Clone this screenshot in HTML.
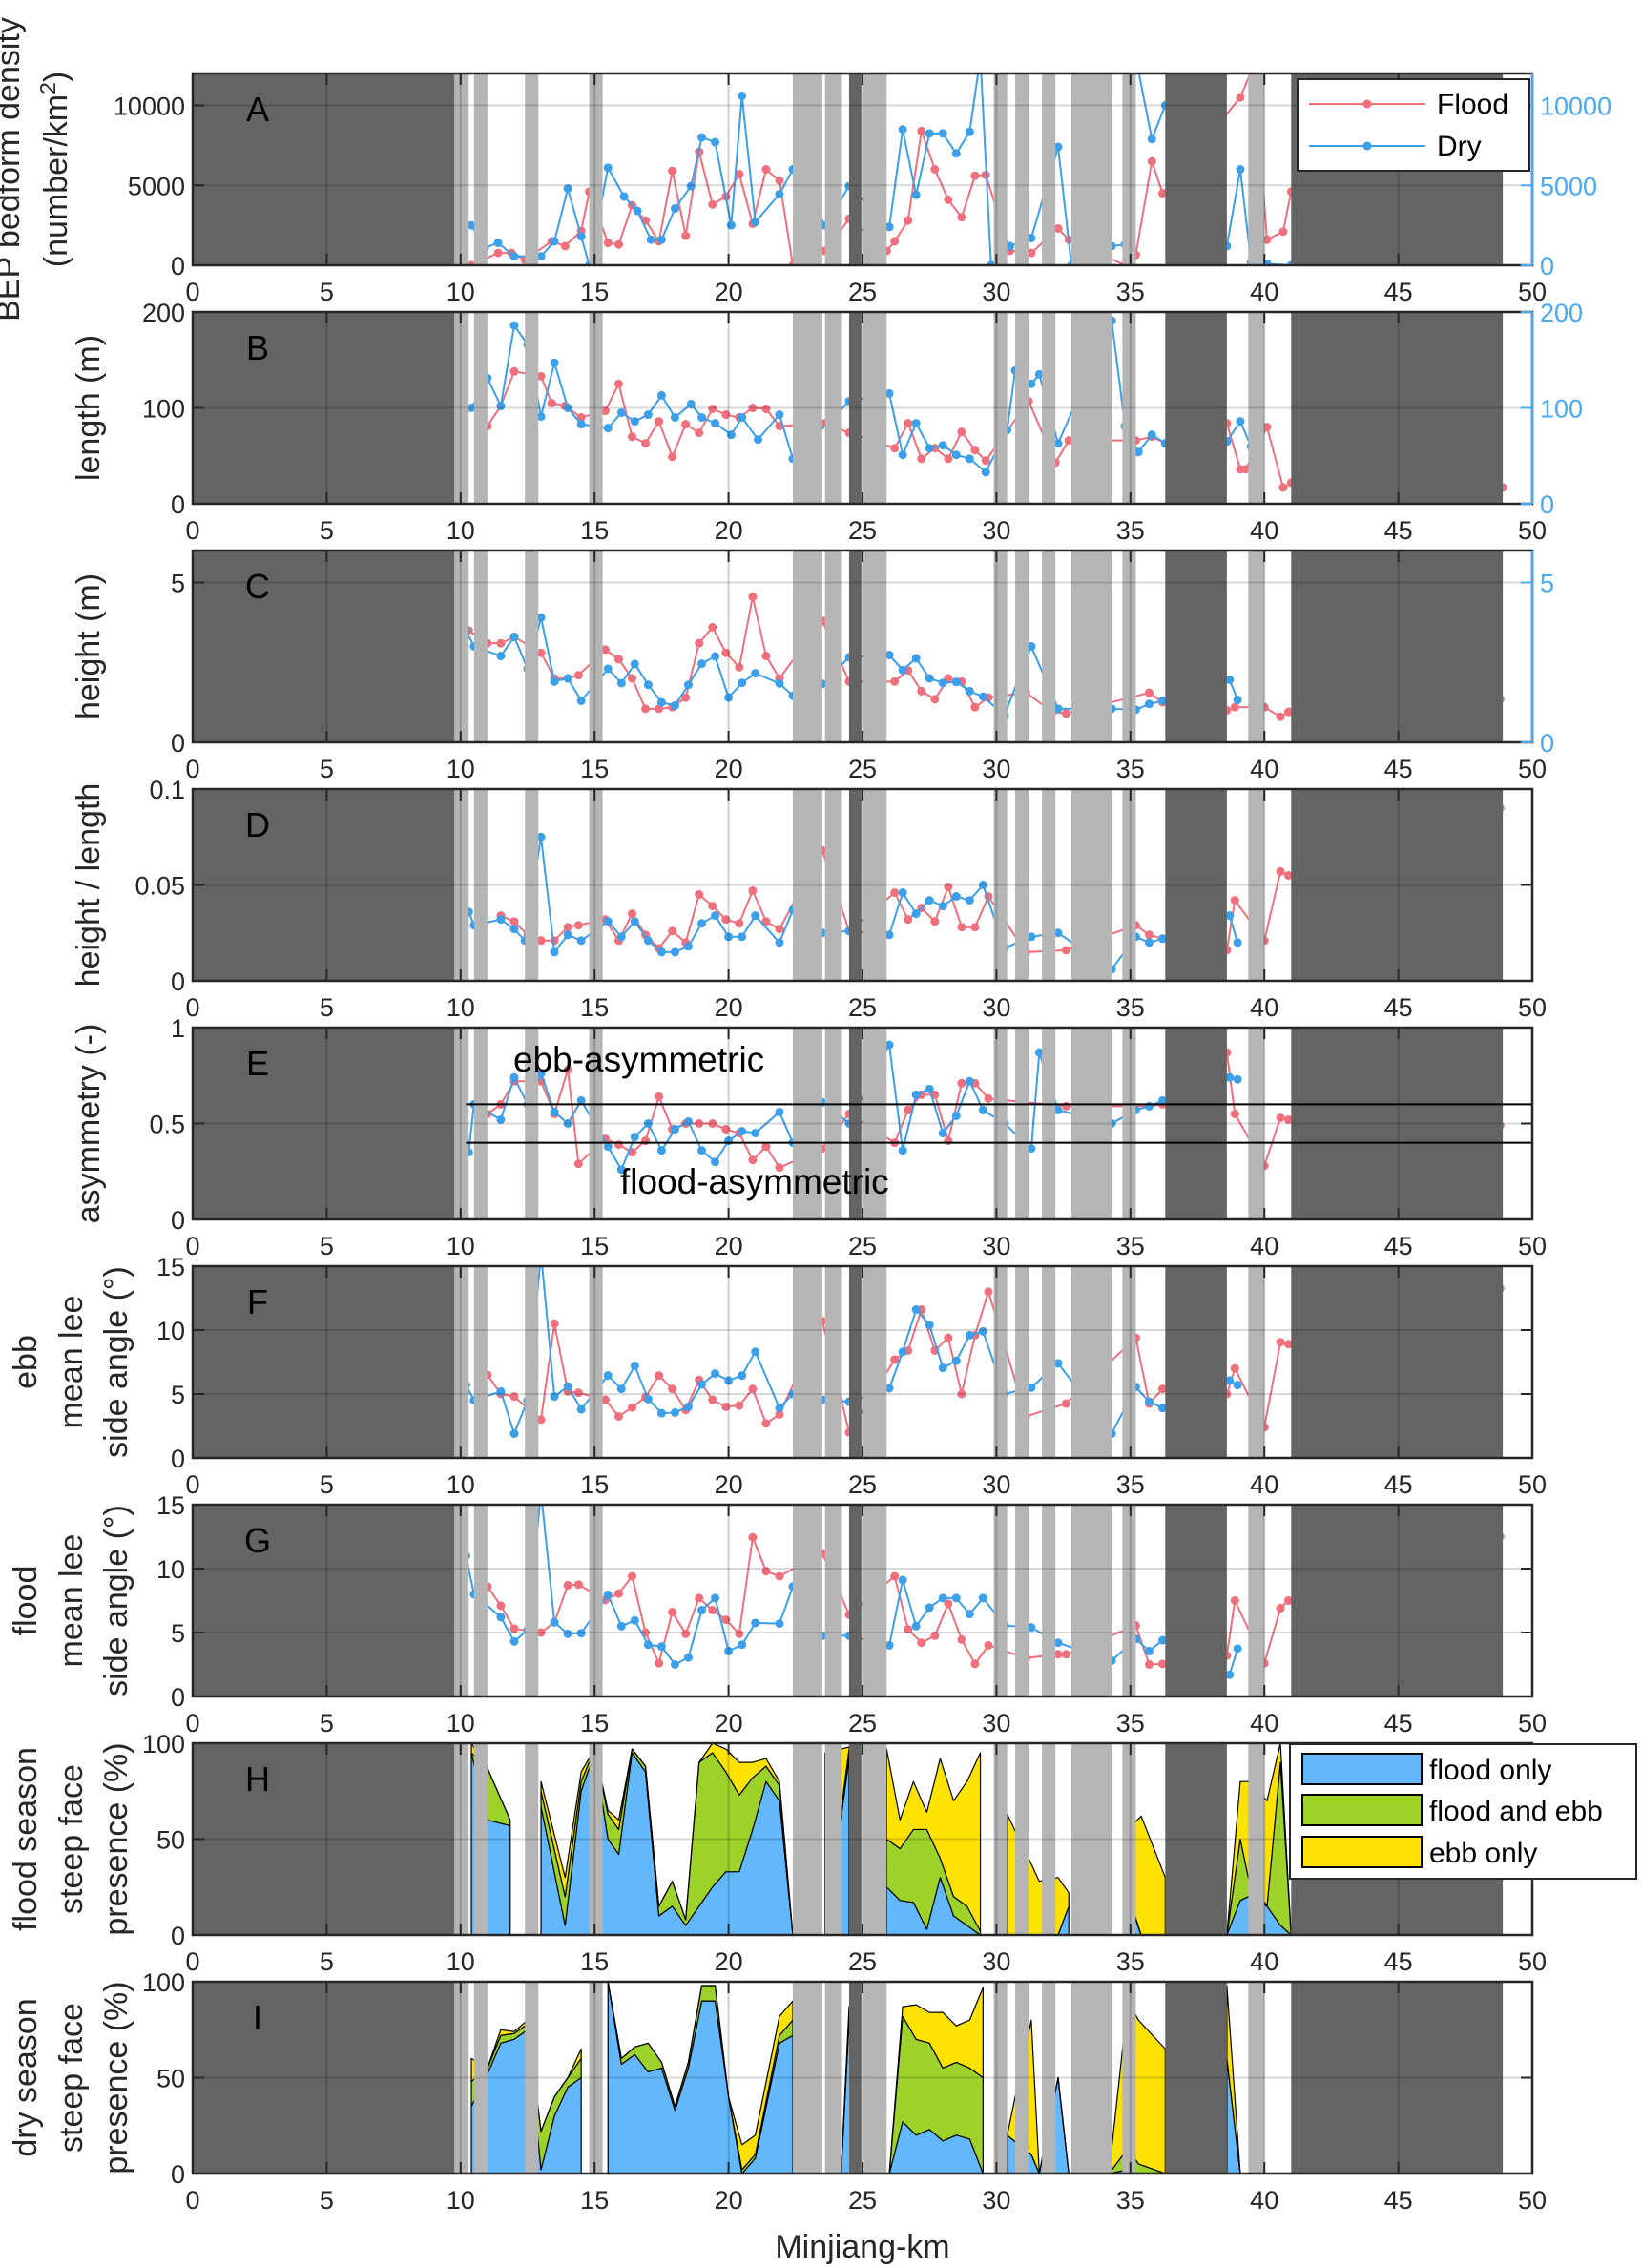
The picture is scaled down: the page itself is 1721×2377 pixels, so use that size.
<!DOCTYPE html>
<html><head><meta charset="utf-8">
<style>
html,body{margin:0;padding:0;background:#fff;}
svg{display:block;font-family:"Liberation Sans",sans-serif;}
</style></head>
<body>
<svg id="fig" width="1721" height="2377" viewBox="0 0 1721 2377" xmlns="http://www.w3.org/2000/svg"></svg>
<script>
// ---------- DATA ----------
const xTicks = [0,5,10,15,20,25,30,35,40,45,50];
const bandStart = [0,9.77,10.5,12.4,14.8,22.4,23.6,24.5,25.0,29.9,30.7,31.7,32.8,34.7,36.3,39.4,41.0];
const bandEnd   = [9.77,10.3,11.0,12.9,15.3,23.5,24.2,24.96,25.9,30.4,31.2,32.2,34.3,35.2,38.6,40.0,48.9];
const bandDark  = [1,0,0,0,0,0,0,1,0,0,0,0,0,0,1,0,1];

const aFloodKm=[10.4,11.4,11.9,12.4,13.4,13.9,14.5,14.8,15.5,15.9,16.4,16.9,17.4,17.9,18.4,18.9,19.4,19.9,20.4,20.9,21.4,21.9,22.4,23.6,24.5,25.9,26.2,26.7,27.2,27.7,28.2,28.7,29.2,29.6,30.5,31.3,32.3,32.7,34.8,35.2,35.8,36.2,39.1,39.6,40.1,40.7,41.0];
const aFloodVal=[0,770,770,340,1500,1200,2150,4600,1400,1300,3750,2800,1500,5900,1850,7100,3800,4300,5700,2600,6000,5300,0,900,2900,900,1500,2800,8400,6000,4100,3000,5600,5650,900,770,2300,1600,0,650,6500,4500,10500,12500,1600,2100,4600];
const aDryKm=[10.4,10.9,11.4,12.0,13.0,13.5,14.0,14.5,14.8,15.5,16.1,16.6,17.1,17.5,18.0,18.6,19.0,19.5,20.1,20.5,21.0,21.9,22.4,23.6,24.5,26.0,26.5,27.0,27.5,28.0,28.5,29.0,29.4,29.8,30.5,31.3,32.3,32.8,34.3,34.8,35.2,35.8,36.3,38.6,39.1,39.5,40.1,41.0];
const aDryVal=[2500,1100,1400,560,560,1500,4800,1800,0,6100,4300,3400,1600,1600,3550,4950,8000,7700,2500,10600,2700,4450,6000,2500,4950,2400,8500,4400,8250,8250,7000,8350,13000,0,1200,1700,7400,0,1200,1300,13000,7900,10000,1200,6000,200,100,0];

const bFloodKm=[11.0,11.5,12.0,13.0,13.4,13.9,14.5,15.4,15.9,16.4,16.9,17.4,17.9,18.4,18.9,19.4,19.9,20.4,20.9,21.4,21.9,23.6,24.5,26.2,26.7,27.2,27.7,28.2,28.7,29.2,29.6,31.2,32.2,32.7,35.2,35.8,36.3,38.6,39.1,39.3,40.1,40.7,41.0,48.9];
const bFloodVal=[81,102,138,133,105,102,90,97,125,70,63,86,49,83,74,99,93,90,100,99,81,84,74,58,84,47,58,47,75,56,45,107,43,66,66,70,63,84,36,36,80,17,22,17];
const bDryKm=[10.4,11.0,11.5,12.0,12.5,13.0,13.5,14.0,14.5,15.5,16.0,16.5,17.0,17.5,18.0,18.6,19.0,19.5,20.1,20.5,21.1,21.9,22.4,24.5,26.0,26.5,27.0,27.5,28.0,28.5,29.0,29.6,30.4,30.7,31.3,31.6,32.3,34.3,34.8,35.3,35.8,36.3,38.6,39.1,39.5];
const bDryVal=[100,131,102,186,166,91,147,100,83,79,95,86,93,113,90,104,90,84,72,90,67,93,47,107,115,51,84,58,61,51,47,33,77,139,125,135,63,191,81,54,72,63,65,86,60];

const cFloodKm=[10.3,11.0,11.5,12.0,13.0,13.5,14.0,14.4,15.4,15.9,16.4,16.9,17.4,17.9,18.4,18.9,19.4,19.9,20.4,20.9,21.4,21.9,23.5,24.5,26.2,26.7,27.2,27.7,28.2,28.7,29.2,29.7,31.1,32.1,32.6,35.7,36.2,38.6,38.9,40.0,40.6,40.9,48.8];
const cFloodVal=[3.5,3.1,3.1,3.3,2.8,2.0,2.0,2.1,2.9,2.6,2.0,1.05,1.05,1.1,1.4,3.1,3.6,2.8,2.35,4.55,2.7,2.0,3.8,1.9,1.9,2.25,1.6,1.35,2.0,1.9,1.1,1.4,1.55,0.95,0.9,1.55,1.25,1.0,1.1,1.1,0.8,0.95,1.35];
const cDryKm=[10.2,10.5,11.5,12.0,12.5,13.0,13.5,14.0,14.5,15.5,16.0,16.5,17.0,17.5,18.0,18.5,19.0,19.5,20.0,20.5,21.0,21.9,22.4,23.5,24.5,26.0,26.5,27.0,27.5,28.0,28.5,29.0,29.5,30.3,31.3,32.3,34.3,35.2,35.7,36.2,38.7,39.0];
const cDryVal=[3.5,3.0,2.7,3.3,2.3,3.9,1.9,2.0,1.3,2.3,1.85,2.45,1.8,1.25,1.15,1.8,2.46,2.69,1.4,1.86,2.16,1.84,1.46,1.83,2.66,2.73,2.26,2.63,2.0,1.86,1.89,1.6,1.43,0.85,3.0,1.05,1.05,1.02,1.2,1.3,1.96,1.33];

const dFloodKm=[11.5,12.0,12.5,13.0,13.5,14.0,14.4,15.4,15.9,16.4,16.9,17.4,17.9,18.4,18.9,19.4,19.9,20.4,20.9,21.4,21.9,23.5,24.5,26.2,26.7,27.2,27.7,28.2,28.7,29.2,29.7,31.1,32.6,35.2,35.7,36.2,38.6,38.9,40.0,40.6,40.9,48.8];
const dFloodVal=[0.034,0.031,0.024,0.021,0.021,0.028,0.029,0.032,0.021,0.035,0.024,0.017,0.026,0.020,0.045,0.039,0.032,0.030,0.047,0.031,0.027,0.068,0.026,0.046,0.032,0.038,0.031,0.049,0.028,0.028,0.044,0.015,0.016,0.029,0.024,0.022,0.016,0.042,0.021,0.057,0.055,0.09];
const dDryKm=[10.3,10.5,11.5,12.0,12.4,13.0,13.5,14.0,14.5,15.5,16.0,16.5,17.0,17.5,18.0,18.5,19.0,19.5,20.0,20.5,21.0,21.9,22.4,23.5,24.5,26.0,26.5,27.0,27.5,28.0,28.5,29.0,29.5,30.3,31.3,32.3,34.3,35.2,35.7,36.2,38.7,39.0];
const dDryVal=[0.036,0.029,0.032,0.027,0.021,0.075,0.015,0.024,0.021,0.031,0.023,0.031,0.021,0.015,0.015,0.018,0.030,0.034,0.023,0.023,0.034,0.020,0.037,0.025,0.026,0.024,0.046,0.035,0.042,0.039,0.044,0.042,0.050,0.017,0.023,0.025,0.006,0.023,0.020,0.022,0.034,0.020];

const eFloodKm=[11.0,11.5,12.0,13.0,13.5,14.0,14.4,15.4,15.9,16.4,16.9,17.4,17.9,18.4,18.9,19.4,19.9,20.4,20.9,21.4,21.9,23.5,24.5,26.2,26.7,27.2,27.7,28.2,28.7,29.2,29.7,32.6,35.7,36.2,38.6,38.9,40.0,40.6,40.9,48.8];
const eFloodVal=[0.55,0.6,0.72,0.72,0.55,0.78,0.29,0.42,0.39,0.35,0.41,0.64,0.47,0.50,0.50,0.50,0.47,0.45,0.31,0.38,0.27,0.37,0.55,0.40,0.57,0.65,0.65,0.41,0.71,0.71,0.63,0.59,0.59,0.60,0.87,0.55,0.28,0.53,0.52,0.49];
const eDryKm=[10.3,10.5,11.5,12.0,12.5,13.0,13.5,14.0,14.5,15.5,16.0,16.5,17.0,17.5,18.0,18.5,19.0,19.5,20.0,20.5,21.0,21.9,22.4,23.5,24.5,26.0,26.5,27.0,27.5,28.0,28.5,29.0,29.5,30.3,31.3,31.6,32.3,34.3,35.2,35.7,36.2,38.7,39.0];
const eDryVal=[0.35,0.6,0.52,0.74,0.6,0.76,0.56,0.5,0.62,0.38,0.26,0.43,0.50,0.36,0.47,0.51,0.36,0.30,0.41,0.46,0.45,0.56,0.40,0.61,0.50,0.91,0.36,0.65,0.68,0.45,0.54,0.72,0.57,0.50,0.37,0.87,0.57,0.50,0.57,0.59,0.62,0.74,0.73];

const fFloodKm=[11.0,11.5,12.0,13.0,13.5,14.0,14.4,15.4,15.9,16.4,16.9,17.4,17.9,18.4,18.9,19.4,19.9,20.4,20.9,21.4,21.9,23.5,24.5,26.2,26.7,27.2,27.7,28.2,28.7,29.2,29.7,31.1,32.6,35.2,35.7,36.2,38.6,38.9,40.0,40.6,40.9,48.8];
const fFloodVal=[6.5,5.0,4.8,3.0,10.5,5.2,5.1,4.55,3.25,3.95,4.75,6.45,5.4,3.75,6.1,4.55,4.0,4.1,5.4,2.7,3.4,10.7,2.0,7.7,8.4,11.6,8.4,9.4,5.0,9.6,13.0,3.25,4.25,9.4,4.25,5.4,5.0,7.0,2.4,9.05,8.9,13.25];
const fDryKm=[10.2,10.5,11.5,12.0,12.5,13.0,13.5,14.0,14.5,15.5,16.0,16.5,17.0,17.5,18.0,18.5,19.0,19.5,20.0,20.5,21.0,21.9,22.4,23.5,24.5,26.0,26.5,27.0,27.5,28.0,28.5,29.0,29.5,30.3,31.3,32.3,34.3,35.2,35.7,36.2,38.7,39.0];
const fDryVal=[5.7,4.5,5.2,1.9,4.5,16,4.8,5.6,3.8,6.45,5.4,7.2,4.6,3.5,3.55,4.0,5.75,6.6,6.05,6.45,8.3,3.9,5.0,4.55,4.4,5.45,8.3,11.6,10.4,7.05,7.6,9.6,9.9,5.0,5.5,7.4,1.9,5.55,4.4,3.9,6.05,5.7];

const gFloodKm=[11.0,11.5,12.0,13.0,13.5,14.0,14.4,15.4,15.9,16.4,16.9,17.4,17.9,18.4,18.9,19.4,19.9,20.4,20.9,21.4,21.9,23.5,24.5,26.2,26.7,27.2,27.7,28.2,28.7,29.2,29.7,31.1,32.3,32.6,35.2,35.7,36.2,38.6,38.9,40.0,40.6,40.9,48.8];
const gFloodVal=[8.6,7.1,5.3,5.0,5.8,8.7,8.75,7.55,8.05,9.4,5.0,2.6,6.6,4.9,7.7,6.75,6.0,4.9,12.45,9.8,9.4,11.2,6.4,9.4,5.25,4.2,4.75,7.25,4.45,2.55,4.0,3.0,3.3,3.3,5.55,2.5,2.55,3.2,7.5,2.6,6.9,7.5,12.5];
const gDryKm=[10.2,10.5,11.5,12.0,12.5,13.0,13.5,14.0,14.5,15.5,16.0,16.5,17.0,17.5,18.0,18.5,19.0,19.5,20.0,20.5,21.0,21.9,22.4,23.5,24.5,26.0,26.5,27.0,27.5,28.0,28.5,29.0,29.5,30.3,31.3,32.3,34.3,35.2,35.7,36.2,38.7,39.0];
const gDryVal=[11,8,6.2,4.3,5.2,16,5.8,4.9,4.95,7.95,5.5,5.95,4.05,3.9,2.5,3.05,6.75,7.7,3.55,4.05,5.75,5.7,8.6,4.75,4.75,4.0,9.1,5.5,6.95,7.7,7.7,6.45,7.7,5.55,5.4,4.2,2.8,4.5,3.55,4.4,1.7,3.75];

const hKm    =[10.4,11.0,11.85,null,13.0,13.9,14.5,15.0,15.5,15.9,16.4,16.9,17.4,17.9,18.4,18.9,19.4,19.9,20.4,20.9,21.4,21.9,22.4,null,23.6,24.5,null,25.9,26.4,26.9,27.4,27.9,28.4,28.9,29.4,null,30.4,31.3,31.6,32.3,32.7,null,34.9,35.4,36.3,null,38.6,39.1,39.4,40.1,40.6,41.0];
const hFlood =[95,60,57,null,67,5,75,95,50,42,95,85,10,15,5,15,25,33,33,55,80,70,0,null,0,92,null,25,18,17,3,30,10,5,0,null,0,0,0,0,15,null,20,0,0,null,0,18,20,15,5,0];
const hBoth  =[0,27,3,null,8,15,5,2,13,13,2,3,5,13,3,75,70,52,40,27,8,8,0,null,0,5,null,25,27,38,52,10,10,10,2,null,0,0,0,0,0,null,2,0,0,null,0,32,10,0,85,0];
const hEbb   =[5,0,0,null,5,10,5,0,2,5,0,0,0,0,0,0,5,12,17,8,4,2,0,null,95,1,null,47,15,25,9,52,50,65,93,null,63,37,28,30,7,null,33,62,30,null,0,30,50,55,10,0];
const iKm    =[10.4,11.0,11.5,12.0,12.5,13.0,13.5,14.0,14.5,null,15.5,16.0,16.5,17.0,17.5,18.0,18.5,19.0,19.5,20.0,20.5,21.0,21.9,22.4,null,24.2,24.5,24.8,null,26.0,26.5,27.0,27.5,28.0,28.5,29.0,29.5,null,30.4,31.3,31.6,32.3,32.7,null,34.2,34.9,35.3,36.3,null,38.6,39.1];
const iFlood =[35,52,68,70,75,2,30,45,50,null,100,57,62,53,55,33,55,90,90,40,0,8,68,72,null,0,80,0,null,0,27,20,23,17,20,18,0,null,20,10,0,50,0,null,0,2,0,0,null,60,0];
const iBoth  =[13,3,4,3,3,20,10,5,10,null,0,3,4,15,3,2,3,8,8,0,2,2,4,8,null,0,5,0,null,0,55,50,45,38,38,37,50,null,0,0,0,0,0,null,0,11,5,0,null,0,0];
const iEbb   =[12,0,3,1,2,0,0,0,5,null,0,0,0,0,0,0,0,0,0,0,13,10,10,10,null,0,2,0,null,0,5,18,16,29,19,25,47,null,0,70,0,0,0,null,0,77,75,65,null,38,0];

// ---------- LAYOUT ----------
const svg=document.getElementById('fig');
const NS='http://www.w3.org/2000/svg';
const L=202,R=1606,TOP0=77,STEP=250,H=201;
const FLOOD='#ef6f7c',DRY='#3b9fea',BLUE='#62b8fb',GREEN='#9dd22b',YEL='#fde100';
function el(tag,attrs,parent){const e=document.createElementNS(NS,tag);for(const k in attrs)e.setAttribute(k,attrs[k]);(parent||svg).appendChild(e);return e;}
function xs(km){return L+(km/50)*(R-L);}

const panels=[
 {id:'a',letter:'A',max:12000,ticks:[0,5000,10000],right:true,labels:['BEP bedform density','(number/km²)'],fk:aFloodKm,fv:aFloodVal,dk:aDryKm,dv:aDryVal},
 {id:'b',letter:'B',max:200,ticks:[0,100,200],right:true,labels:['length (m)'],fk:bFloodKm,fv:bFloodVal,dk:bDryKm,dv:bDryVal},
 {id:'c',letter:'C',max:6,ticks:[0,5],right:true,labels:['height (m)'],fk:cFloodKm,fv:cFloodVal,dk:cDryKm,dv:cDryVal},
 {id:'d',letter:'D',max:0.1,ticks:[0,0.05,0.1],labels:['height / length'],fk:dFloodKm,fv:dFloodVal,dk:dDryKm,dv:dDryVal},
 {id:'e',letter:'E',max:1,ticks:[0,0.5,1],labels:['asymmetry (-)'],fk:eFloodKm,fv:eFloodVal,dk:eDryKm,dv:eDryVal},
 {id:'f',letter:'F',max:15,ticks:[0,5,10,15],labels:['ebb','mean lee','side angle (°)'],fk:fFloodKm,fv:fFloodVal,dk:fDryKm,dv:fDryVal},
 {id:'g',letter:'G',max:15,ticks:[0,5,10,15],labels:['flood','mean lee','side angle (°)'],fk:gFloodKm,fv:gFloodVal,dk:gDryKm,dv:gDryVal},
 {id:'h',letter:'H',max:100,ticks:[0,50,100],labels:['flood season','steep face','presence (%)'],area:[hKm,hFlood,hBoth,hEbb]},
 {id:'i',letter:'I',max:100,ticks:[0,50,100],labels:['dry season','steep face','presence (%)'],area:[iKm,iFlood,iBoth,iEbb]},
];

const defs=el('defs',{});
panels.forEach((p,idx)=>{
  const top=TOP0+STEP*idx, bot=top+H;
  const ys=v=>bot-(v/p.max)*H;
  const g=el('g',{});
  
  
  const cp=el('clipPath',{id:'clip'+p.id},defs);
  el('rect',{x:L,y:top,width:R-L,height:H},cp);
  el('rect',{x:L,y:top,width:R-L,height:H,fill:'#fff'},g);
  const plot=el('g',{'clip-path':'url(#clip'+p.id+')'},g);
  if(p.area){
    const [km,a,b,c]=p.area;
    const segs=[];let cur=[];
    km.forEach((k,i)=>{if(k===null){if(cur.length)segs.push(cur);cur=[];}else cur.push(i);});
    if(cur.length)segs.push(cur);
    const layers=[[a,BLUE,'flood-only'],[b,GREEN,'flood-and-ebb'],[c,YEL,'ebb-only']];
    segs.forEach(seg=>{
      let base=seg.map(()=>0);
      layers.forEach(([arr,col,nm])=>{
        const topv=seg.map((i,j)=>base[j]+arr[i]);
        let d='M'+seg.map((i,j)=>xs(km[i])+','+ys(topv[j])).join(' L');
        for(let j=seg.length-1;j>=0;j--)d+=' L'+xs(km[seg[j]])+','+ys(base[j]);
        d+=' Z';
        const pa=el('path',{d:d,fill:col,stroke:'#000','stroke-width':1.2,'stroke-linejoin':'round'},plot);
        
        
        base=topv;
      });
    });
  } else {
    [[p.fk,p.fv,FLOOD,'flood'],[p.dk,p.dv,DRY,'dry']].forEach(([k,v,col,nm])=>{
      const pl=el('polyline',{points:k.map((x,i)=>xs(x)+','+ys(v[i])).join(' '),fill:'none',stroke:col,'stroke-width':2},plot);
      
      
      k.forEach((x,i)=>{
        const c=el('circle',{cx:xs(x),cy:ys(v[i]),r:4.5,fill:col},plot);
        
        
      });
    });
  }
  bandStart.forEach((s,i)=>{
    const r=el('rect',{x:xs(s),y:top,width:xs(bandEnd[i])-xs(s),height:H,fill:bandDark[i]?'#646464':'#b5b5b5'},plot);
    
    
  });
  xTicks.forEach(t=>{if(t>0&&t<50)el('line',{x1:xs(t),x2:xs(t),y1:top,y2:bot,stroke:'rgba(0,0,0,0.18)','stroke-width':2},plot);});
  p.ticks.forEach(t=>{if(t>0&&t<p.max)el('line',{x1:L,x2:R,y1:ys(t),y2:ys(t),stroke:'rgba(0,0,0,0.15)','stroke-width':2},plot);});
  if(p.id==='e'){
    [0.4,0.6].forEach(v=>{const ln=el('line',{x1:xs(10.2),x2:R,y1:ys(v),y2:ys(v),stroke:'#000','stroke-width':2},plot);
      });
    const t1=el('text',{x:538,y:1123,'font-size':37,fill:'#000'},g);t1.textContent='ebb-asymmetric';
    
    const t2=el('text',{x:650,y:1251,'font-size':37,fill:'#000'},g);t2.textContent='flood-asymmetric';
    
  }
  el('rect',{x:L,y:top,width:R-L,height:H,fill:'none',stroke:'#262626','stroke-width':2.5},g);
  xTicks.forEach(t=>{
    el('line',{x1:xs(t),x2:xs(t),y1:bot,y2:bot-12,stroke:'#262626','stroke-width':2},g);
    el('line',{x1:xs(t),x2:xs(t),y1:top,y2:top+12,stroke:'#262626','stroke-width':2},g);
    const tx=el('text',{x:xs(t),y:bot+37,'font-size':27,'text-anchor':'middle',fill:'#262626'},g);
    tx.textContent=t;
    
    
  });
  p.ticks.forEach(t=>{
    el('line',{x1:L,x2:L+12,y1:ys(t),y2:ys(t),stroke:'#262626','stroke-width':2},g);
    const ty=el('text',{x:L-8,y:ys(t)+10,'font-size':27,'text-anchor':'end',fill:'#262626'},g);
    ty.textContent=t;
    
    
    if(p.right){
      el('line',{x1:R,x2:R-12,y1:ys(t),y2:ys(t),stroke:'#4aa8ee','stroke-width':2},g);
      const tr=el('text',{x:R+8,y:ys(t)+10,'font-size':27,fill:'#4aa8ee'},g);
      tr.textContent=t;
      
      
    } else {
      el('line',{x1:R,x2:R-12,y1:ys(t),y2:ys(t),stroke:'#262626','stroke-width':2},g);
    }
  });
  if(p.right) el('line',{x1:R,x2:R,y1:top,y2:bot,stroke:'#4aa8ee','stroke-width':2.5},g);
  const lt=el('text',{x:270,y:top+50,'font-size':36,'text-anchor':'middle',fill:'#000'},g);
  lt.textContent=p.letter;
  
  
  const n=p.labels.length;
  const cy=top+H/2;
  const xsLab = n===1?[114]:n===2?[30,80]:[48,96,143];
  p.labels.forEach((s,i)=>{
    const x=xsLab[i]-10;
    const yl=el('text',{x:x,y:cy,'font-size':34,'text-anchor':'middle',fill:'#262626',transform:'rotate(-90 '+x+' '+cy+')'},g);
    if(s.indexOf('km²')>=0){yl.innerHTML='(number/km<tspan dy="-12" font-size="23">2</tspan><tspan dy="12">)</tspan>';}
    else yl.textContent=s;
    
    
  });
});

const lg=el('g',{});


el('rect',{x:1360,y:83,width:243,height:96,fill:'#fff',stroke:'#262626','stroke-width':2},lg);
[[FLOOD,'Flood',109],[DRY,'Dry',153]].forEach(([c,t,y])=>{
  el('line',{x1:1372,x2:1494,y1:y,y2:y,stroke:c,'stroke-width':2},lg);
  el('circle',{cx:1433,cy:y,r:4.5,fill:c},lg);
  const tx=el('text',{x:1506,y:y+10,'font-size':30,fill:'#000'},lg);tx.textContent=t;
  
  
});
const lh=el('g',{});


el('rect',{x:1352,y:1828,width:363,height:141,fill:'#fff',stroke:'#262626','stroke-width':2},lh);
[[BLUE,'flood only',1838],[GREEN,'flood and ebb',1881],[YEL,'ebb only',1925]].forEach(([c,t,y])=>{
  el('rect',{x:1365,y:y,width:125,height:32,fill:c,stroke:'#000','stroke-width':2},lh);
  const tx=el('text',{x:1498,y:y+27,'font-size':30,fill:'#000'},lh);tx.textContent=t;
  
  
});
const xl=el('text',{x:904,y:2366,'font-size':34,'text-anchor':'middle',fill:'#262626'});
xl.textContent='Minjiang-km';


</script>
</body></html>
